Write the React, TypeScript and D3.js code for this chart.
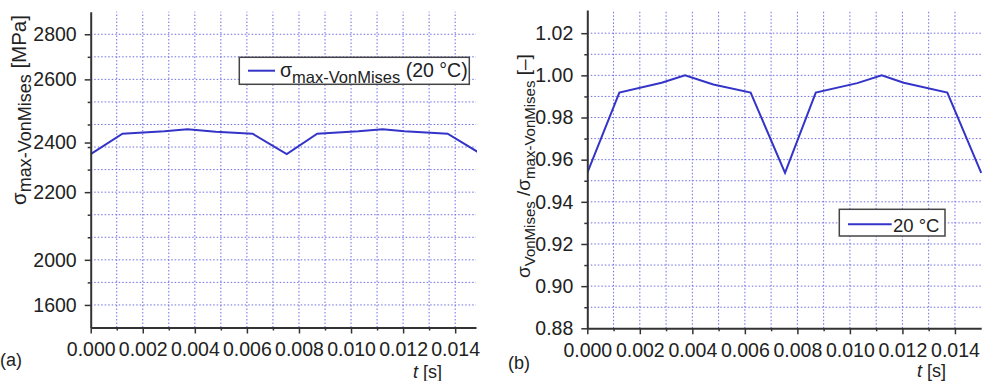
import React, { useEffect, useRef } from 'react';
import * as d3 from 'd3';

// time samples shared by both panels [s]
const timeS = [0, 0.00122, 0.00283, 0.00372, 0.0048, 0.00622, 0.00753, 0.0087, 0.01028, 0.01121, 0.01205, 0.01371, 0.015];
// (a) max von Mises stress at 20 °C [MPa]
const sigmaMax20 = [2269, 2359, 2370, 2379, 2368, 2359, 2269, 2359, 2370, 2379, 2370, 2359, 2269];
// (b) normalised von Mises stress at 20 °C [-]
const sigmaRatio20 = [0.9537, 0.9918, 0.9965, 1.0, 0.9957, 0.9918, 0.9537, 0.9918, 0.9963, 1.0, 0.9965, 0.9918, 0.9537];

const xMajor = [0, 0.002, 0.004, 0.006, 0.008, 0.01, 0.012, 0.014];
const xMinor = [0.001, 0.003, 0.005, 0.007, 0.009, 0.011, 0.013];

// panel (a): grid every 100 MPa, labels as printed in the figure (they sit off their values)
const leftGrid = [1600, 1700, 1800, 1900, 2000, 2100, 2200, 2300, 2400, 2500, 2600, 2700, 2800];
const leftLabelAt = [1600, 1800, 2100, 2320, 2600, 2800];
const leftLabelText = ['1600', '2000', '2200', '2400', '2600', '2800'];

// panel (b)
const rightMajor = [0.88, 0.9, 0.92, 0.94, 0.96, 0.98, 1.0, 1.02];
const rightMinor = [0.89, 0.91, 0.93, 0.95, 0.97, 0.99, 1.01];

const FONT = 'Liberation Sans, Arial, sans-serif';
const LINE = '#3434c8';
const GRID = '#6d6de6';
const AXIS = '#333';
const TICK_FONT = 19.5;

function styleAxis(g: any) {
  g.select('.domain').attr('stroke', AXIS).attr('stroke-width', 2);
  g.selectAll('.tick line').attr('stroke', AXIS).attr('stroke-width', 1.5);
  g.selectAll('.tick text').attr('fill', '#222').style('font-size', TICK_FONT + 'px').style('font-family', FONT);
}

function drawPanel(svg: any, p: any) {
  const { x, y, xGrid, yGrid, values, clipId } = p;
  const [x0, x1] = x.range();
  const [yb, yt] = y.range();

  // dotted grid
  const grid = svg.append('g').attr('stroke', GRID).attr('stroke-width', 1).attr('stroke-dasharray', '1.5 2');
  grid.selectAll('line.v').data(xGrid).join('line').attr('class', 'v')
    .attr('x1', (d: number) => x(d)).attr('x2', (d: number) => x(d)).attr('y1', yb).attr('y2', yt);
  grid.selectAll('line.h').data(yGrid).join('line').attr('class', 'h')
    .attr('x1', x0).attr('x2', x1).attr('y1', (d: number) => y(d)).attr('y2', (d: number) => y(d));

  // data line
  svg.append('clipPath').attr('id', clipId).append('rect')
    .attr('x', x0).attr('y', yt).attr('width', x1 - x0 + 1).attr('height', yb - yt);
  const line = d3.line<number>().x((d, i) => x(timeS[i])).y(d => y(d));
  svg.append('path').datum(values).attr('d', line).attr('fill', 'none')
    .attr('stroke', LINE).attr('stroke-width', 2).attr('clip-path', `url(#${clipId})`);

  // x axis
  const gx = svg.append('g').attr('transform', `translate(0,${yb})`);
  gx.call(d3.axisBottom(x).tickValues(xMajor).tickFormat(d3.format('.3f')).tickSize(6).tickSizeOuter(0).tickPadding(9));
  styleAxis(gx);
  const gxm = svg.append('g').attr('transform', `translate(0,${yb})`);
  gxm.call(d3.axisBottom(x).tickValues(xMinor).tickFormat(() => '').tickSize(3).tickSizeOuter(0));
  styleAxis(gxm);
  gxm.select('.domain').remove();

  // y axis
  const gy = svg.append('g').attr('transform', `translate(${x0},0)`);
  gy.call(d3.axisLeft(y).tickValues(p.yLabelAt).tickFormat((d: any, i: number) => p.yLabelText[i]).tickSize(6).tickSizeOuter(0).tickPadding(8));
  styleAxis(gy);
  const gym = svg.append('g').attr('transform', `translate(${x0},0)`);
  gym.call(d3.axisLeft(y).tickValues(p.yMinor).tickFormat(() => '').tickSize(3).tickSizeOuter(0));
  styleAxis(gym);
  gym.select('.domain').remove();
}

function drawLegend(svg: any, box: any, parts: any[]) {
  const g = svg.append('g');
  g.append('rect').attr('x', box.x).attr('y', box.y).attr('width', box.w).attr('height', box.h)
    .attr('fill', '#fff').attr('stroke', '#444').attr('stroke-width', 1.5);
  g.append('line').attr('x1', box.lx0).attr('x2', box.lx1).attr('y1', box.ly).attr('y2', box.ly)
    .attr('stroke', LINE).attr('stroke-width', 2);
  const t = g.append('text').attr('x', box.tx).attr('y', box.ty).attr('fill', '#222').style('font-family', FONT);
  parts.forEach(pt => t.append('tspan').text(pt.s).style('font-size', pt.size + 'px').attr('dy', pt.dy || 0));
}

function richText(svg: any, tr: string, parts: any[]) {
  const t = svg.append('text').attr('transform', tr).attr('fill', '#222').style('font-family', FONT);
  parts.forEach(pt => t.append('tspan').text(pt.s).style('font-size', pt.size + 'px')
    .style('font-style', pt.italic ? 'italic' : 'normal').attr('dy', pt.dy || 0));
}

export default function App() {
  const ref = useRef<SVGSVGElement>(null);

  useEffect(() => {
    const svg = d3.select(ref.current);
    svg.selectAll('*').remove();

    // (a)
    const xa = d3.scaleLinear().domain([0, 0.0148]).range([90.7, 476]);
    const ya = d3.scaleLinear().domain([1500, 2900]).range([327.5, 11.7]);
    drawPanel(svg, {
      x: xa, y: ya, xGrid: xMajor.slice(1).concat(xMinor), yGrid: leftGrid, values: sigmaMax20, clipId: 'clipA',
      yLabelAt: leftLabelAt, yLabelText: leftLabelText, yMinor: leftGrid.filter(v => leftLabelAt.indexOf(v) < 0),
    });
    drawLegend(svg, { x: 239.3, y: 57.3, w: 230, h: 27, lx0: 248, lx1: 275, ly: 70.7, tx: 280, ty: 77 }, [
      { s: 'σ', size: 19.5 }, { s: 'max-VonMises', size: 16.5, dy: 6 }, { s: ' (20 °C)', size: 19.5, dy: -6 },
    ]);
    richText(svg, 'translate(26,205) rotate(-90)', [
      { s: 'σ', size: 20.5 }, { s: 'max-VonMises', size: 18, dy: 5 }, { s: ' [MPa]', size: 20.5, dy: -5 },
    ]);
    richText(svg, 'translate(413,378)', [{ s: 't', size: 18, italic: true }, { s: ' [s]', size: 18 }]);
    richText(svg, 'translate(0,366)', [{ s: '(a)', size: 18 }]);

    // (b)
    const xb = d3.scaleLinear().domain([0, 0.015]).range([587.3, 981.2]);
    const yb = d3.scaleLinear().domain([0.88, 1.031]).range([328.3, 10]);
    drawPanel(svg, {
      x: xb, y: yb, xGrid: xMajor.slice(1).concat(xMinor), yGrid: rightMajor.slice(1).concat(rightMinor), values: sigmaRatio20, clipId: 'clipB',
      yLabelAt: rightMajor, yLabelText: rightMajor.map(d3.format('.2f')), yMinor: rightMinor,
    });
    drawLegend(svg, { x: 839.3, y: 209.3, w: 105.7, h: 26.7, lx0: 848, lx1: 891.7, ly: 224.3, tx: 893, ty: 231.5 }, [
      { s: '20 °C', size: 18.5 },
    ]);
    richText(svg, 'translate(530,278) rotate(-90)', [
      { s: 'σ', size: 19 }, { s: 'VonMises', size: 15, dy: 5 }, { s: ' /', size: 19, dy: -5 },
      { s: 'σ', size: 19 }, { s: 'max-VonMises', size: 15, dy: 5 }, { s: ' [–]', size: 19, dy: -5 },
    ]);
    richText(svg, 'translate(917,377)', [{ s: 't', size: 18, italic: true }, { s: ' [s]', size: 18 }]);
    richText(svg, 'translate(508,369)', [{ s: '(b)', size: 18 }]);
  }, []);

  return (
    <svg ref={ref} width={991} height={381} style={{ position: 'absolute', left: 0, top: 0, background: '#fff' }} />
  );
}
